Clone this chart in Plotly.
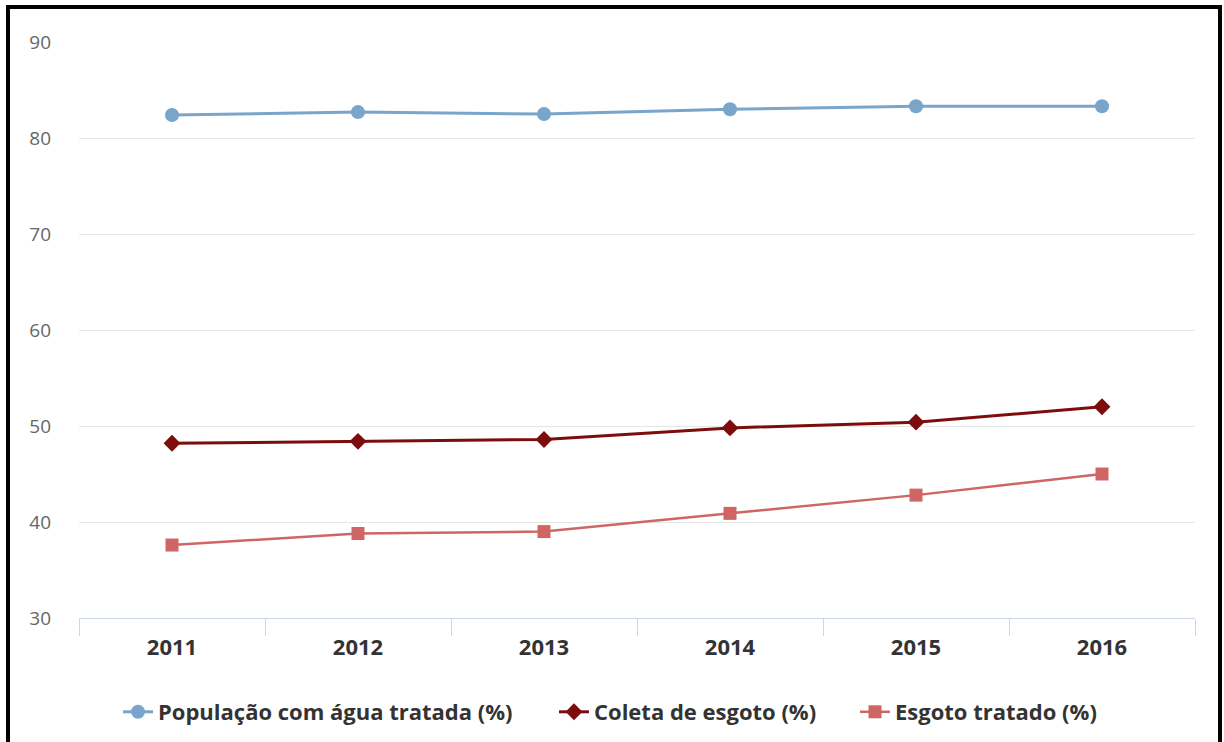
import plotly.graph_objects as go

years = ["2011", "2012", "2013", "2014", "2015", "2016"]
agua_tratada = [82.4, 82.7, 82.5, 83.0, 83.3, 83.3]
coleta_esgoto = [48.2, 48.4, 48.6, 49.8, 50.4, 52.0]
esgoto_tratado = [37.6, 38.8, 39.0, 40.9, 42.8, 45.0]

names = ["População com água tratada (%)", "Coleta de esgoto (%)", "Esgoto tratado (%)"]
colors = ["#78a5c9", "#7d0c0c", "#cf6565"]

W, H = 1224, 742
L, R, T, B = 79, 29, 42, 124
PW, PH = W - L - R, H - T - B

def px_x(p):
    return (p - L) / PW

def px_y(p):
    return (H - B - p) / PH

fig = go.Figure()
fig.add_trace(go.Scatter(x=years, y=agua_tratada, name=names[0], mode="lines+markers",
                         line=dict(color=colors[0], width=3), legend="legend",
                         marker=dict(symbol="circle", size=14, color=colors[0])))
fig.add_trace(go.Scatter(x=years, y=coleta_esgoto, name=names[1], mode="lines+markers",
                         line=dict(color=colors[1], width=3), legend="legend2",
                         marker=dict(symbol="diamond", size=13, color=colors[1])))
fig.add_trace(go.Scatter(x=years, y=esgoto_tratado, name=names[2], mode="lines+markers",
                         line=dict(color=colors[2], width=2.5), legend="legend3",
                         marker=dict(symbol="square", size=13, color=colors[2])))

legfont = dict(size=22, color="#333333", family="Open Sans", weight="bold")
leg_common = dict(orientation="h", xanchor="left", xref="container", yref="container",
                  y=(H - 712) / H, yanchor="middle",
                  font=legfont, itemwidth=30, bgcolor="rgba(0,0,0,0)")

fig.update_layout(
    width=W, height=H,
    margin=dict(l=L, r=R, t=T, b=B, autoexpand=False),
    paper_bgcolor="white", plot_bgcolor="white",
    font=dict(family="Open Sans", color="#333333"),
    showlegend=True,
    legend=dict(x=118 / W, **leg_common),
    legend2=dict(x=554 / W, **leg_common),
    legend3=dict(x=855 / W, **leg_common),
    xaxis=dict(type="category", range=[-0.5, 5.5], tickson="boundaries",
               ticks="outside", ticklen=17, tickcolor="#ccd6eb", tickwidth=1,
               showline=True, linecolor="#ccd6eb", linewidth=1, showgrid=False,
               tickfont=dict(size=22, color="#333333", family="Open Sans", weight="bold"),
               ticklabelstandoff=10, fixedrange=True),
    yaxis=dict(range=[30, 90], dtick=10, showgrid=True, gridcolor="#e6e6e6", gridwidth=1,
               zeroline=False, showline=False, ticks="",
               tickfont=dict(size=19, color="#666666", family="Open Sans"),
               ticklabelstandoff=27, fixedrange=True),
    shapes=[dict(type="rect", xref="paper", yref="paper",
                 x0=px_x(8), x1=px_x(1220), y0=px_y(800), y1=px_y(7),
                 line=dict(color="black", width=4), fillcolor="rgba(0,0,0,0)", layer="above")],
)

fig.write_html("out.html", config={"displayModeBar": False},
               post_script="document.body.style.margin='0px';document.body.style.overflow='hidden';")
